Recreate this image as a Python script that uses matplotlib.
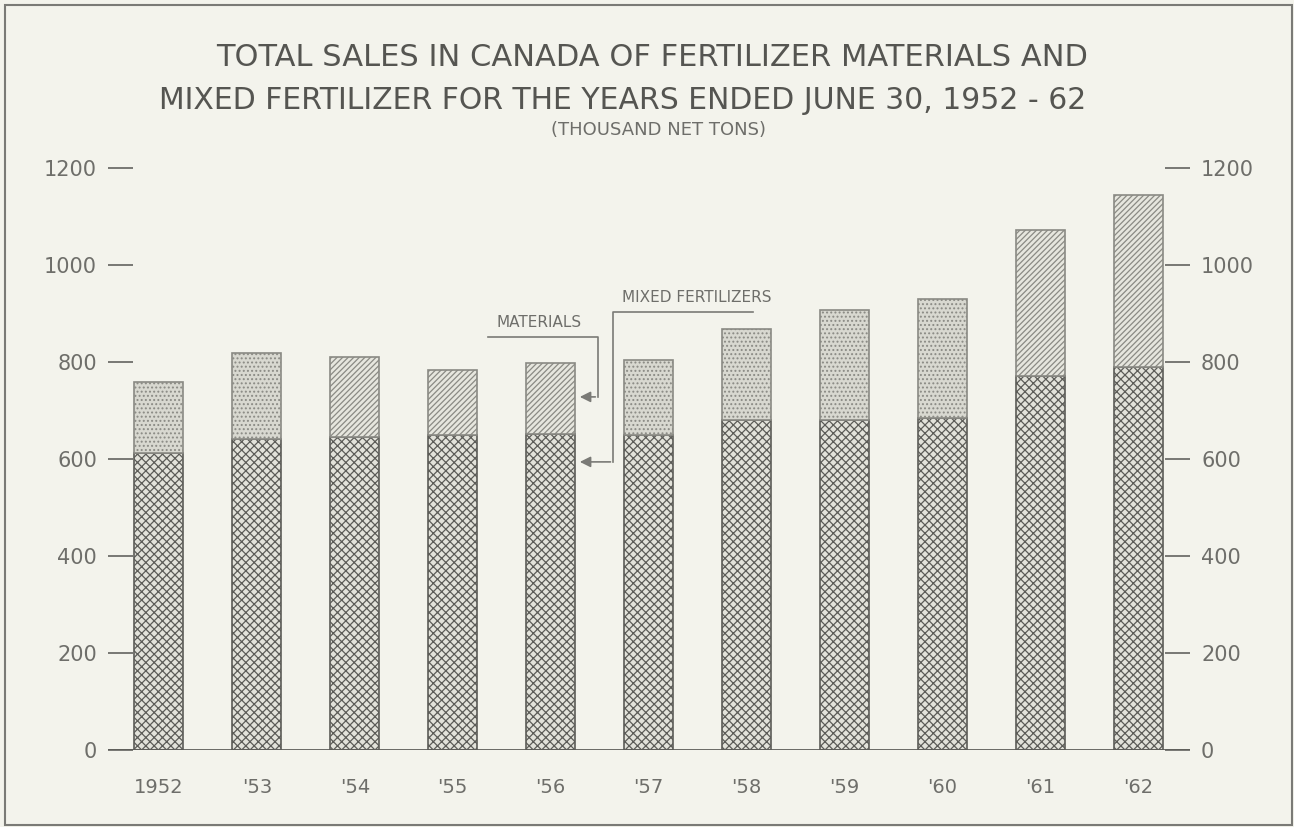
import matplotlib.pyplot as plt
from matplotlib.patches import Rectangle
import numpy as np

# thousand net tons, years ended June 30
years = ['1952', "'53", "'54", "'55", "'56", "'57", "'58", "'59", "'60", "'61", "'62"]
mixed = [612, 641, 645, 650, 652, 650, 680, 680, 685, 771, 790]
materials = [147, 178, 165, 134, 146, 154, 188, 227, 245, 301, 354]
yticks = [0, 200, 400, 600, 800, 1000, 1200]

# top segment screen as printed (dot screen or diagonal ruling)
top_hatch = ['....', '....', '//////', '//////', '//////', '....',
             '....', '....', '....', '//////', '//////']

bg = '#f3f3ec'
ink = '#6e6e6a'
plt.rcParams['hatch.linewidth'] = 0.9
plt.rcParams['font.family'] = ['DejaVu Sans']

fig = plt.figure(figsize=(12.94, 8.27), dpi=100, facecolor=bg)
ax = fig.add_axes([0.0835, 0.0931, 0.8361, 0.7038], facecolor=bg)

x = np.arange(len(years))
ax.bar(x, mixed, width=0.5, facecolor='#e2e2da', edgecolor='#5c5c58',
       hatch='xxxx', linewidth=1.2, zorder=2)
tops = ax.bar(x, materials, bottom=mixed, width=0.5, facecolor='#d8d8d0',
              edgecolor='#8a8a84', linewidth=1.2, zorder=2)
for b, h in zip(tops, top_hatch):
    b.set_hatch(h)
    if h.startswith('/'):
        b.set_facecolor('#e6e6de')

ax.set_xlim(-0.52, len(years) - 1 + 0.53)
ax.set_ylim(0, 1200)
ax.axhline(0, color='#5c5c58', lw=2, zorder=3)
for s in ax.spines.values():
    s.set_visible(False)

ax.set_yticks(yticks)
ax.set_yticklabels([str(v) for v in yticks])
ax.tick_params(axis='y', direction='in', length=18, width=1.3, color=ink,
               left=True, right=True, labelleft=True, labelright=True,
               labelsize=15, labelcolor=ink, pad=8)
ax.set_xticks(x)
ax.set_xticklabels(years)
ax.tick_params(axis='x', length=0, labelsize=14, labelcolor=ink, pad=20)

# leader lines
lc = '#7a7a76'
ax.plot([3.36, 4.485, 4.485], [851, 851, 728], color=lc, lw=1.2, clip_on=False)
ax.annotate('', xy=(4.27, 728), xytext=(4.485, 728),
            arrowprops=dict(arrowstyle='-|>', color=lc, lw=1.2, mutation_scale=16))
ax.plot([6.07, 4.64, 4.64], [903, 903, 594], color=lc, lw=1.2, clip_on=False)
ax.annotate('', xy=(4.27, 594), xytext=(4.64, 594),
            arrowprops=dict(arrowstyle='-|>', color=lc, lw=1.2, mutation_scale=16))
ax.text(3.45, 882, 'MATERIALS', fontsize=11, color=ink, va='center', ha='left')
ax.text(4.73, 932, 'MIXED FERTILIZERS', fontsize=11, color=ink, va='center', ha='left')

fig.text(0.504, 0.930, 'TOTAL SALES IN CANADA OF FERTILIZER MATERIALS AND',
         ha='center', va='center', fontsize=22, color='#555551')
fig.text(0.481, 0.879, 'MIXED FERTILIZER FOR THE YEARS ENDED JUNE 30, 1952 - 62',
         ha='center', va='center', fontsize=21.5, color='#555551')
fig.text(0.509, 0.843, '(THOUSAND NET TONS)', ha='center', va='center',
         fontsize=13, color=ink)

fig.patches.append(Rectangle((0.004, 0.003), 0.9945, 0.991, transform=fig.transFigure,
                             fill=False, edgecolor='#7a7a76', lw=1.5))

fig.savefig('out.png', dpi=100, facecolor=bg)
